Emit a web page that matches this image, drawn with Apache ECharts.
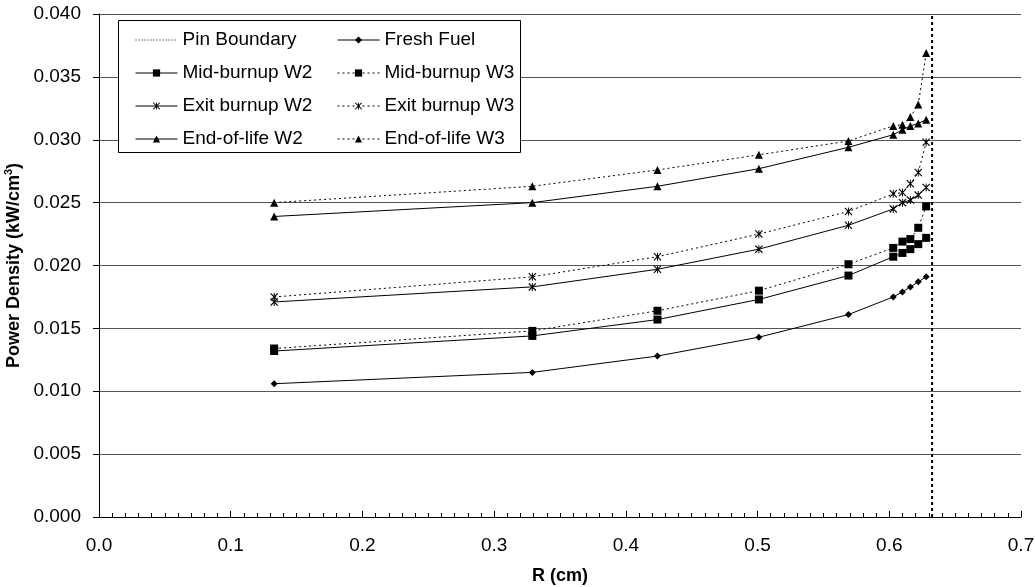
<!DOCTYPE html>
<html>
<head>
<meta charset="utf-8">
<script src="https://cdn.jsdelivr.net/npm/echarts@6/dist/echarts.min.js"></script>
<style>
html, body { margin: 0; padding: 0; background: #fff; }
#chart { width: 1035px; height: 587px; }
</style>
</head>
<body>
<div id="chart"></div>
<script>
// radial positions (cm)
var radius = [0.133, 0.329, 0.424, 0.501, 0.569, 0.603, 0.610, 0.616, 0.622, 0.628]
var pinBoundary = 0.6325

// power density (kW/cm3)
var freshFuel = [0.0106, 0.0115, 0.0128, 0.0143, 0.0161, 0.0175, 0.0179, 0.0183, 0.0187, 0.0191]
var midW2 = [0.0132, 0.0144, 0.0157, 0.0173, 0.0192, 0.0207, 0.0210, 0.0213, 0.0217, 0.0222]
var midW3 = [0.0134, 0.0148, 0.0164, 0.0180, 0.0201, 0.0214, 0.0219, 0.0221, 0.0230, 0.0247]
var exitW2 = [0.0171, 0.0183, 0.0197, 0.0213, 0.0232, 0.0245, 0.0250, 0.0252, 0.0256, 0.0262]
var exitW3 = [0.0175, 0.0191, 0.0207, 0.0225, 0.0243, 0.0257, 0.0258, 0.0265, 0.0274, 0.0298]
var eolW2 = [0.0239, 0.0250, 0.0263, 0.0277, 0.0294, 0.0304, 0.0308, 0.0311, 0.0313, 0.0316]
var eolW3 = [0.0250, 0.0263, 0.0276, 0.0288, 0.0299, 0.0311, 0.0312, 0.0318, 0.0328, 0.0369]

var FONT = 'Liberation Sans'
var starPath = 'path://M0,1L1,0L5,4L9,0L10,1L6,5L10,9L9,10L5,6L1,10L0,9L4,5Z M4.4,0H5.6V10H4.4Z'

function pairs(ys) {
  var out = []
  for (var i = 0; i < ys.length; i++) {
    out.push([radius[i], ys[i]])
  }
  return out
}

function lineSeries(name, ys, symbol, size, dotted) {
  return {
    name: name,
    type: 'line',
    data: pairs(ys),
    symbol: symbol,
    symbolSize: size,
    showSymbol: true,
    itemStyle: { color: '#000' },
    lineStyle: { color: '#000', width: 1, type: dotted ? [2, 3] : 'solid' },
    emphasis: { disabled: true },
    animation: false
  }
}

var legendBase = {
  z: 10,
  orient: 'vertical',
  top: 25,
  itemWidth: 42,
  itemHeight: 9,
  itemGap: 13,
  lineStyle: { width: 1 },
  textStyle: { fontFamily: FONT, fontSize: 19, color: '#000', lineHeight: 20 }
}

var chart = echarts.init(document.getElementById('chart'))

chart.setOption({
  animation: false,
  textStyle: { fontFamily: FONT },
  grid: { left: 99, right: 14, top: 14, bottom: 70, outerBoundsMode: 'none', containLabel: false },
  graphic: [{
    type: 'rect',
    z: 5,
    shape: { x: 118.5, y: 20.5, width: 402, height: 132 },
    style: { fill: '#fff', stroke: '#000', lineWidth: 1 }
  }],
  legend: [
    Object.assign({}, legendBase, {
      left: 130,
      data: [
        { name: 'Pin Boundary', itemStyle: { opacity: 0 }, lineStyle: { width: 1, type: [1, 2] } },
        'Mid-burnup W2', 'Exit burnup W2', 'End-of-life W2'
      ]
    }),
    Object.assign({}, legendBase, {
      left: 332,
      data: ['Fresh Fuel', 'Mid-burnup W3', 'Exit burnup W3', 'End-of-life W3']
    })
  ],
  xAxis: {
    type: 'value',
    min: 0,
    max: 0.7,
    interval: 0.1,
    name: 'R (cm)',
    nameLocation: 'middle',
    nameGap: 50,
    nameTextStyle: { fontFamily: FONT, fontSize: 18, fontWeight: 'bold', color: '#000' },
    axisLine: { show: true, onZero: false, lineStyle: { color: '#000', width: 1 } },
    axisTick: { show: true, inside: true, length: 6, lineStyle: { color: '#000' } },
    minorTick: { show: true, splitNumber: 10, length: 4, lineStyle: { color: '#000' } },
    axisLabel: {
      fontFamily: FONT, fontSize: 19, color: '#000', margin: 19,
      formatter: function (v) { return v.toFixed(1) }
    },
    splitLine: { show: false }
  },
  yAxis: {
    type: 'value',
    min: 0,
    max: 0.04,
    interval: 0.005,
    name: '{a|Power Density (kW/cm}{s|3}{a|)}',
    nameLocation: 'middle',
    nameGap: 62,
    nameTextStyle: {
      rich: {
        a: { fontFamily: FONT, fontSize: 18, fontWeight: 'bold', color: '#000' },
        s: { fontFamily: FONT, fontSize: 11, fontWeight: 'bold', color: '#000', verticalAlign: 'top', padding: [0, 0, 9, 0] }
      }
    },
    axisLine: { show: true, lineStyle: { color: '#000', width: 1 } },
    axisTick: { show: true, inside: false, length: 6, lineStyle: { color: '#000' } },
    axisLabel: {
      fontFamily: FONT, fontSize: 19, color: '#000', margin: 18,
      formatter: function (v) { return v.toFixed(3) }
    },
    splitLine: { show: true, lineStyle: { color: '#555', width: 1 } }
  },
  series: [
    {
      name: 'Pin Boundary',
      type: 'line',
      data: [[pinBoundary, 0], [pinBoundary, 0.04]],
      symbol: 'none',
      itemStyle: { color: '#000' },
      lineStyle: { color: '#000', width: 2, type: [3, 3] },
      emphasis: { disabled: true },
      animation: false
    },
    lineSeries('Fresh Fuel', freshFuel, 'diamond', 7, false),
    lineSeries('Mid-burnup W2', midW2, 'rect', 8, false),
    lineSeries('Mid-burnup W3', midW3, 'rect', 8, true),
    lineSeries('Exit burnup W2', exitW2, starPath, 8, false),
    lineSeries('Exit burnup W3', exitW3, starPath, 8, true),
    lineSeries('End-of-life W2', eolW2, 'triangle', 8, false),
    lineSeries('End-of-life W3', eolW3, 'triangle', 8, true)
  ]
})
</script>
</body>
</html>
